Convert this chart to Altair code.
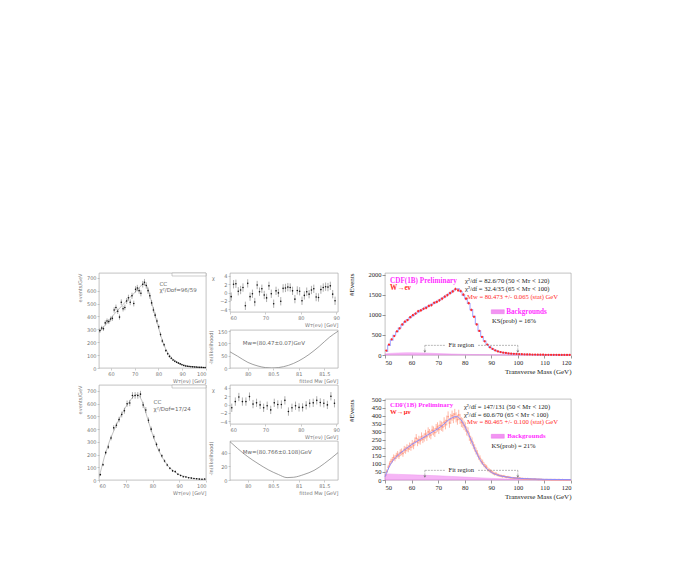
import altair as alt
import numpy as np
import pandas as pd

# ---------------- left column: CC electron W fits ----------------
h1_x = [55.375 + 0.75 * i for i in range(60)]
h1_y = [290, 310, 305, 350, 365, 360, 380, 385, 450, 470,
        440, 395, 510, 460, 470, 520, 545, 510, 560, 500,
        610, 620, 600, 580, 650, 665, 640, 600, 560, 505,
        450, 410, 365, 320, 260, 210, 180, 135, 110, 90,
        75, 62, 52, 45, 38, 32, 25, 20, 16, 14,
        12, 10, 9, 8, 7, 6, 5, 5, 4, 3]
h1_fit_x = [55, 57, 59, 61, 63, 65, 67, 69, 71, 72, 73, 74, 75, 76, 77, 78, 79, 80,
            81, 82, 83, 84, 86, 88, 90, 92, 94, 96, 98, 100]
h1_fit_y = [280, 320, 360, 410, 450, 490, 530, 565, 605, 625, 645, 655, 640, 590, 520,
            450, 380, 315, 250, 195, 150, 115, 70, 45, 28, 18, 12, 8, 5, 3]

h2_x = [60.5 + i for i in range(40)]
h2_y = [42, 120, 215, 260, 330, 410, 430, 475, 515, 545,
        600, 605, 665, 665, 665, 675, 590, 550, 470, 400,
        340, 280, 235, 190, 150, 118, 92, 72, 66, 45,
        35, 26, 24, 18, 15, 12, 10, 7, 6, 8]
h2_fit_x = [60, 61, 62, 64, 66, 68, 70, 72, 73, 74, 75, 76, 77, 78, 79, 80, 82, 84,
            86, 88, 90, 93, 96, 100]
h2_fit_y = [20, 100, 180, 310, 410, 500, 575, 635, 660, 672, 665, 625, 565, 495, 425,
            360, 245, 165, 105, 68, 42, 22, 10, 4]

res1_x = [60 + (i + 0.5) * 30 / 45 for i in range(45)]
res1_y = [-1.0, 2.0, 2.1, 0.3, 0.6, 1.2, -3.2, 2.2, -1.0, -0.3,
          -2.3, 1.8, 0.2, 0.9, -0.6, -1.3, 1.6, -0.3, -2.7, 0.4,
          -0.1, -2.1, 1.0, 1.1, 1.3, 1.2, 0.4, -1.6, 0.5, 0.3,
          -2.0, -0.7, 0.2, -0.4, 0.6, 0.9, -1.1, -1.2, 0.7, 1.2,
          1.4, 1.3, 1.6, -0.4, -2.0]
res2_x = [60.5 + i for i in range(30)]
res2_y = [-0.8, 0.7, 1.8, 0.7, 0.7, 1.9, 0.1, 0.4, -0.1, -0.8,
          -0.3, -1.3, 0.4, 0.0, 0.0, 1.0, -1.7, -0.8, -0.3, -0.7,
          -0.7, -0.2, 0.3, 0.4, 1.0, 0.5, 0.3, -0.1, 2.0, 0.3]

chi1_x = [79.65, 79.8, 80.0, 80.2, 80.35, 80.47, 80.6, 80.8, 81.0, 81.2, 81.4, 81.6, 81.77]
chi1_y = [66, 48, 23, 8, 1.5, 0, 1.7, 11, 29, 55, 88, 125, 150]
chi2_x = [79.65, 79.8, 80.0, 80.2, 80.4, 80.6, 80.77, 80.9, 81.1, 81.3, 81.5, 81.77]
chi2_y = [56, 46, 34, 24, 15, 8, 3.5, 4, 8, 14, 24, 40]

# ---------------- right column: CDF Run 1B W -> e nu / mu nu ----------------
e_x = [50.5 + i for i in range(70)]
e_data = [110, 260, 390, 470, 590, 660, 760, 830, 870, 940,
          990, 1030, 1090, 1110, 1150, 1170, 1220, 1240, 1300, 1320,
          1360, 1400, 1450, 1490, 1540, 1580, 1640, 1610, 1590, 1500,
          1400, 1290, 1120, 950, 760, 600, 450, 340, 260, 190,
          150, 115, 90, 72, 58, 50, 40, 34, 30, 26,
          22, 19, 17, 15, 13, 11, 10, 9, 8, 7,
          6, 6, 5, 4, 4, 3, 3, 3, 2, 2]
e_fit = [90, 240, 370, 490, 580, 670, 750, 820, 880, 930,
         980, 1030, 1070, 1110, 1150, 1190, 1220, 1260, 1290, 1330,
         1370, 1410, 1450, 1500, 1540, 1590, 1630, 1650, 1580, 1490,
         1400, 1280, 1130, 960, 770, 600, 460, 350, 260, 195,
         150, 115, 90, 72, 58, 48, 40, 34, 29, 25,
         22, 19, 17, 15, 13, 11, 10, 9, 8, 7,
         6, 6, 5, 4, 4, 3, 3, 3, 2, 2]
e_bkg_x = [50, 52, 55, 58, 60, 65, 70, 75, 80, 85, 90, 100, 110, 120]
e_bkg_y = [25, 40, 50, 55, 55, 48, 35, 25, 15, 10, 6, 3, 1, 0]

mu_x = [50.25 + 0.5 * i for i in range(140)]
mu_data = [30, 55, 80, 100, 115, 125, 140, 135, 150, 160,
           150, 170, 175, 165, 190, 185, 200, 195, 210, 205,
           225, 215, 240, 260, 235, 250, 245, 270, 255, 265,
           285, 270, 300, 290, 280, 310, 305, 295, 320, 330,
           315, 340, 335, 330, 360, 345, 370, 395, 355, 380,
           400, 385, 410, 390, 375, 405, 380, 360, 355, 340,
           330, 305, 300, 270, 250, 240, 215, 200, 180, 165,
           145, 135, 115, 110, 95, 85, 80, 65, 60, 55,
           50, 42, 38, 40, 32, 30, 27, 25, 22, 24,
           20, 18, 19, 16, 15, 14, 13, 12, 12, 11,
           10, 11, 9, 9, 8, 8, 7, 8, 6, 6,
           6, 5, 5, 5, 4, 4, 4, 4, 3, 3,
           3, 3, 3, 2, 3, 2, 2, 2, 2, 2,
           2, 2, 1, 2, 1, 1, 1, 1, 1, 1]
mu_fit_x = [50, 51, 52, 53, 54, 55, 56, 58, 60, 62, 64, 66, 68, 70, 72, 74, 75, 76, 77,
            78, 79, 80, 81, 82, 83, 84, 85, 86, 87, 88, 89, 90, 92, 94, 96, 98, 100,
            105, 110, 115, 120]
mu_fit_y = [20, 60, 95, 120, 140, 155, 170, 195, 220, 240, 260, 280, 300, 320, 345, 375,
            385, 393, 395, 385, 365, 335, 300, 265, 225, 185, 150, 120, 95, 75, 60, 48,
            33, 24, 18, 14, 11, 7, 4, 3, 2]
mu_bkg_x = [50, 55, 60, 65, 70, 75, 80, 85, 90, 95, 100, 110, 120]
mu_bkg_y = [38, 35, 32, 29, 26, 22, 18, 14, 10, 7, 4, 1, 0]

LF = "DejaVu Sans"
SF = "Liberation Serif"
LGRAY = "#777777"


def lax(values, title, fmt="", **kw):
    d = dict(values=values, title=title, labelFont=LF, labelFontSize=5, labelColor=LGRAY,
             tickColor="#999999", tickSize=2, tickWidth=0.5, domain=False, grid=False,
             labelPadding=1, titleFont=LF, titleFontSize=5, titleColor=LGRAY,
             titleFontWeight="normal", titlePadding=2)
    if fmt:
        d["format"] = fmt
    d.update(kw)
    return alt.Axis(**d)


def enc(xf, yf, xs, ys, xa, ya):
    return dict(x=alt.X(xf, scale=xs, axis=xa), y=alt.Y(yf, scale=ys, axis=ya))


def stats_box():
    return alt.Chart(pd.DataFrame({"a": [0]})).mark_rect(
        fill="white", stroke="#999999", strokeWidth=0.5).encode(
        x=alt.value(73), x2=alt.value(107), y=alt.value(0), y2=alt.value(3))


def left_hist(x, y, fx, fy, xdom, ydom, xticks, tx, ty1, ty2, label):
    d = pd.DataFrame({"x": x, "y": y})
    d["lo"] = d["y"] - np.sqrt(d["y"])
    d["hi"] = d["y"] + np.sqrt(d["y"])
    f = pd.DataFrame({"x": fx, "y": fy})
    xs = alt.Scale(domain=xdom, nice=False, zero=False)
    ys = alt.Scale(domain=ydom, nice=False, zero=False)
    xa = lax(xticks, "W\u1d1b(e\u03bd) [GeV]", titleAnchor="end")
    ya = lax(list(range(0, 701, 100)), "events/GeV", titleAnchor="end", titleAngle=270,
             titleX=-17)
    fit = alt.Chart(f).mark_line(color="#999999", strokeWidth=0.6, clip=True).encode(
        **enc("x:Q", "y:Q", xs, ys, xa, ya))
    bars = alt.Chart(d).mark_rule(color="#333333", strokeWidth=0.4).encode(
        y2="hi:Q", **enc("x:Q", "lo:Q", xs, ys, xa, ya))
    pts = alt.Chart(d).mark_circle(color="#111111", size=2.5, opacity=1).encode(
        **enc("x:Q", "y:Q", xs, ys, xa, ya))
    t = pd.DataFrame({"x": [tx, tx], "y": [ty1, ty2], "t": ["CC", label]})
    txt = alt.Chart(t).mark_text(align="left", baseline="middle", font=LF, fontSize=5.5,
                                 color="#666666").encode(
        text="t:N", **enc("x:Q", "y:Q", xs, ys, xa, ya))
    return alt.layer(fit, bars, pts, txt, stats_box()).properties(width=107, height=95)


def resid(x, r, h):
    d = pd.DataFrame({"x": x, "r": r})
    d["lo"] = d["r"] - 1
    d["hi"] = d["r"] + 1
    xs = alt.Scale(domain=[60, 90.5], nice=False, zero=False)
    ys = alt.Scale(domain=[-4.7, 4.7], nice=False, zero=False)
    xa = lax([60, 70, 80, 90], "W\u1d1b(e\u03bd) [GeV]", titleAnchor="end")
    ya = lax([-4, -2, 0, 2, 4], "\u03c7", titleAngle=0, titleX=-17, titleY=2,
             titleAlign="center", titleBaseline="top")
    bars = alt.Chart(d).mark_rule(color="#333333", strokeWidth=0.4).encode(
        y2="hi:Q", **enc("x:Q", "lo:Q", xs, ys, xa, ya))
    pts = alt.Chart(d).mark_circle(color="#111111", size=2.5, opacity=1).encode(
        **enc("x:Q", "r:Q", xs, ys, xa, ya))
    return alt.layer(bars, pts).properties(width=108, height=h)


def chi(x, y, ydom, yticks, label, ty, h):
    d = pd.DataFrame({"x": x, "y": y})
    xs = alt.Scale(domain=[79.65, 81.77], nice=False, zero=False)
    ys = alt.Scale(domain=ydom, nice=False, zero=False)
    xa = lax([80, 80.5, 81, 81.5], "fitted M\u1d21 [GeV]", fmt="~g", titleAnchor="end")
    ya = lax(yticks, "-ln(likelihood)", titleAnchor="end", titleAngle=270, titleX=-17)
    line = alt.Chart(d).mark_line(color="#777777", strokeWidth=0.7, interpolate="monotone",
                                  clip=True).encode(**enc("x:Q", "y:Q", xs, ys, xa, ya))
    t = pd.DataFrame({"x": [79.9], "y": [ty], "t": [label]})
    txt = alt.Chart(t).mark_text(align="left", baseline="middle", font=LF, fontSize=5.5,
                                 color="#666666").encode(
        text="t:N", **enc("x:Q", "y:Q", xs, ys, xa, ya))
    return alt.layer(line, txt).properties(width=108, height=h)


def rax(values, title, **kw):
    d = dict(values=values, title=title, labelFont=SF, labelFontSize=6.5, labelColor="#222222",
             tickColor="#555555", tickSize=3, tickWidth=0.6, domain=False, grid=False,
             labelPadding=1, titleFont=SF, titleFontSize=7, titleColor="#222222",
             titleFontWeight="normal", titlePadding=2, format="d")
    d.update(kw)
    return alt.Axis(**d)


def right_panel(kind, ydom, yticks, h, texts, sw_y, fit_y, errk):
    xs = alt.Scale(domain=[50, 120], nice=False, zero=False)
    ys = alt.Scale(domain=ydom, nice=False, zero=False)
    xa = rax(list(range(50, 121, 10)), "Transverse Mass (GeV)", titleAnchor="end")
    ya = rax(yticks, "#Events", titleAnchor="end", titleAngle=270, titleX=-31)
    if kind == "e":
        bkg = pd.DataFrame({"x": e_bkg_x, "y": e_bkg_y})
        d = pd.DataFrame({"x": e_x, "y": e_data})
        f = pd.DataFrame({"x": e_x, "y": e_fit})
    else:
        bkg = pd.DataFrame({"x": mu_bkg_x, "y": mu_bkg_y})
        d = pd.DataFrame({"x": mu_x, "y": mu_data})
        f = pd.DataFrame({"x": mu_fit_x, "y": mu_fit_y})
    d["lo"] = d["y"] - errk * np.sqrt(d["y"])
    d["hi"] = d["y"] + errk * np.sqrt(d["y"])
    area = alt.Chart(bkg).mark_area(color="#f07af0", opacity=0.55, stroke="#e040e0",
                                    strokeWidth=0.5).encode(**enc("x:Q", "y:Q", xs, ys, xa, ya))
    if kind == "e":
        fit = alt.Chart(f).mark_line(color="#a8a8ff", strokeWidth=1.1, interpolate="step").encode(
            **enc("x:Q", "y:Q", xs, ys, xa, ya))
        bars = alt.Chart(d).mark_rule(color="#ff3030", strokeWidth=0.6).encode(
            y2="hi:Q", **enc("x:Q", "lo:Q", xs, ys, xa, ya))
        pts = alt.Chart(d).mark_circle(color="#ff2a2a", size=5, opacity=1).encode(
            **enc("x:Q", "y:Q", xs, ys, xa, ya))
        data_layers = [fit, bars, pts]
    else:
        bars = alt.Chart(d).mark_rule(color="#ffa58f", strokeWidth=0.8).encode(
            y2="hi:Q", **enc("x:Q", "lo:Q", xs, ys, xa, ya))
        pts = alt.Chart(d).mark_circle(color="#ff9a85", size=3, opacity=1).encode(
            **enc("x:Q", "y:Q", xs, ys, xa, ya))
        fit = alt.Chart(f).mark_line(color="#8c8cff", strokeWidth=1.0,
                                     interpolate="monotone").encode(
            **enc("x:Q", "y:Q", xs, ys, xa, ya))
        data_layers = [bars, pts, fit]

    t = pd.DataFrame(texts, columns=["x", "y", "t", "c", "w", "s"])
    txts = []
    for col in t["c"].unique():
        for wt in t["w"].unique():
            sub = t[(t["c"] == col) & (t["w"] == wt)]
            if len(sub) == 0:
                continue
            txts.append(alt.Chart(sub).mark_text(
                align="left", baseline="middle", font=SF, fontSize=float(sub["s"].iloc[0]),
                color=col, fontWeight=wt).encode(text="t:N", **enc("x:Q", "y:Q", xs, ys, xa, ya)))
    span = ydom[1]
    sw = pd.DataFrame({"x": [90.0], "x2": [94.9], "y": [sw_y - span * 0.024],
                       "y2": [sw_y + span * 0.024]})
    swatch = alt.Chart(sw).mark_rect(fill="#f07af0", opacity=0.8, stroke="#e040e0",
                                     strokeWidth=0.4).encode(
        x2="x2:Q", y2="y2:Q", **enc("x:Q", "y:Q", xs, ys, xa, ya))
    seg = pd.DataFrame({"x": [65.0, 85.0], "x2": [72.8, 100.0], "y": [fit_y, fit_y]})
    dash = alt.Chart(seg).mark_rule(color="#888888", strokeWidth=0.6, strokeDash=[2, 1]).encode(
        x2="x2:Q", **enc("x:Q", "y:Q", xs, ys, xa, ya))
    vert = pd.DataFrame({"x": [65.0, 100.0], "y": [fit_y, fit_y],
                         "y2": [fit_y * 0.35, fit_y * 0.35]})
    vline = alt.Chart(vert).mark_rule(color="#888888", strokeWidth=0.6, strokeDash=[2, 1]).encode(
        y2="y2:Q", **enc("x:Q", "y:Q", xs, ys, xa, ya))
    head = alt.Chart(vert).mark_point(shape="triangle-down", size=8, color="#777777",
                                      filled=True, opacity=1).encode(
        **enc("x:Q", "y2:Q", xs, ys, xa, ya))
    fr = pd.DataFrame({"x": [78.7], "y": [fit_y], "t": ["Fit region"]})
    frt = alt.Chart(fr).mark_text(align="center", baseline="middle", font=SF, fontSize=6.5,
                                  color="#222222").encode(
        text="t:N", **enc("x:Q", "y:Q", xs, ys, xa, ya))
    return alt.layer(area, *data_layers, dash, vline, head, frt, swatch, *txts).properties(
        width=186, height=h)


MAG = "#ff30ff"
RED = "#ff2a2a"
BLK = "#222222"
MT = "M\u1d1b"

rt_texts = [
    [51.9, 1850, "CDF(1B) Preliminary", MAG, "bold", 7.2],
    [51.9, 1675, "W\u2192e\u03bd", RED, "bold", 7.2],
    [80.1, 1850, "\u03c7\u00b2/df = 82.6/70 (50 < " + MT + " < 120)", BLK, "normal", 6.6],
    [80.1, 1642, "\u03c7\u00b2/df = 32.4/35 (65 < " + MT + " < 100)", BLK, "normal", 6.6],
    [80.9, 1435, "Mw = 80.473 +/- 0.065 (stat) GeV", RED, "normal", 6.6],
    [95.6, 1077, "Backgrounds", MAG, "bold", 6.6],
    [90.3, 845, "KS(prob) = 16%", BLK, "normal", 6.6],
]
rb_texts = [
    [51.9, 466, "CDF(1B) Preliminary", MAG, "bold", 6.8],
    [51.9, 425, "W\u2192\u03bc\u03bd", RED, "bold", 6.8],
    [79.7, 456, "\u03c7\u00b2/df = 147/131 (50 < " + MT + " < 120)", BLK, "normal", 6.6],
    [79.7, 406, "\u03c7\u00b2/df = 60.6/70 (65 < " + MT + " < 100)", BLK, "normal", 6.6],
    [80.9, 363, "Mw = 80.465 +/- 0.100 (stat) GeV", RED, "normal", 6.6],
    [96.0, 272, "Backgrounds", MAG, "bold", 6.6],
    [90.1, 213, "KS(prob) = 21%", BLK, "normal", 6.6],
]

h1 = left_hist(h1_x, h1_y, h1_fit_x, h1_fit_y, [55, 100], [0, 737], [60, 70, 80, 90, 100],
               80.4, 655, 603, "\u03c7\u00b2/Dof=96/59")
h2 = left_hist(h2_x, h2_y, h2_fit_x, h2_fit_y, [60, 100], [0, 747], [60, 70, 80, 90, 100],
               80.4, 611, 555, "\u03c7\u00b2/Dof=17/24")
r1 = resid(res1_x, res1_y, 39)
r2 = resid(res2_x, res2_y, 39)
c1 = chi(chi1_x, chi1_y, [0, 155], [0, 50, 100, 150], "M\u1d21=(80.47\u00b10.07)GeV", 101, 38)
c2 = chi(chi2_x, chi2_y, [0, 57], [0, 20, 40], "M\u1d21=(80.766\u00b10.108)GeV", 41, 39)
rt = right_panel("e", [0, 2040], [0, 500, 1000, 1500, 2000], 82, rt_texts, 1077, 240, 1.0)
rb = right_panel("mu", [0, 504], [0, 50, 100, 150, 200, 250, 300, 350, 400, 450, 500], 81,
                 rb_texts, 272, 60, 1.6)

# innermost stacks hold only single panels -> flush; outer levels use full bounds
stack1 = alt.vconcat(r1, c1, spacing=18, bounds="flush")
stack2 = alt.vconcat(r2, c2, spacing=17, bounds="flush")
row1 = alt.hconcat(h1, stack1, spacing=0)
row2 = alt.hconcat(h2, stack2, spacing=0)
left = alt.vconcat(row1, row2, spacing=0)
right = alt.vconcat(rt, rb, spacing=44, bounds="flush")

chart = alt.hconcat(left, right, spacing=6).properties(
    padding={"left": 68, "top": 263, "right": 10, "bottom": 10},
    background="white",
).configure_view(stroke="#999999", strokeWidth=0.6)

chart.save("out.html", embed_options={"renderer": "svg", "actions": False})
